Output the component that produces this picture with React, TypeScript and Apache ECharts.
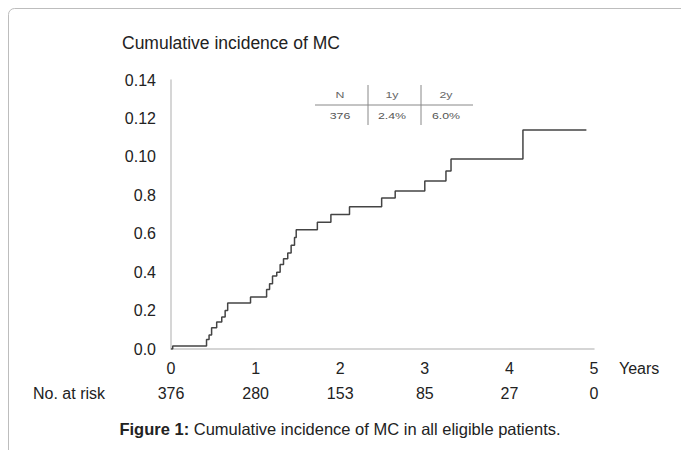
import React, { useEffect, useRef } from "react";
import * as echarts from "echarts";

const years = [0, 1, 2, 3, 4, 5];
const atRisk = ["376", "280", "153", "85", "27", "0"];
const yTickLabels = ["0.0", "0.2", "0.4", "0.6", "0.8", "0.10", "0.12", "0.14"];
const eventTimes = [0, 0.02, 0.42, 0.45, 0.48, 0.54, 0.6, 0.64, 0.67, 0.94, 1.13, 1.165, 1.2, 1.25, 1.29, 1.33, 1.38, 1.42, 1.46, 1.48, 1.73, 1.89, 2.11, 2.49, 2.65, 3.0, 3.25, 3.31, 4.16, 4.91];
const cumIncidence = [0, 0.0016, 0.005, 0.0073, 0.011, 0.014, 0.0167, 0.02, 0.024, 0.027, 0.031, 0.034, 0.038, 0.04, 0.044, 0.047, 0.05, 0.054, 0.058, 0.062, 0.066, 0.07, 0.074, 0.0786, 0.0822, 0.0875, 0.0927, 0.0989, 0.114, 0.114];
const tableHeader = ["N", "1y", "2y"];
const tableRow = ["376", "2.4%", "6.0%"];

const FONT = "'Liberation Sans', Arial, sans-serif";

export default function App() {
  const ref = useRef<HTMLDivElement>(null);
  useEffect(() => {
    if (!ref.current) return;
    const chart = echarts.init(ref.current, null, { renderer: "svg" });
    const colX = [340, 392, 446];
    const option: any = {
      animation: false,
      backgroundColor: "#fff",
      textStyle: { fontFamily: FONT },
      grid: { left: 171, right: 87, top: 80, bottom: 101, containLabel: false },
      xAxis: [
        {
          type: "value",
          min: 0,
          max: 5,
          interval: 1,
          axisLine: { show: true, lineStyle: { color: "#c8c8c8", width: 1.5 } },
          axisTick: { show: false },
          splitLine: { show: false },
          axisLabel: { color: "#222", fontSize: 16, margin: 11, fontFamily: FONT, formatter: (v: number) => String(years[Math.round(v)] ?? v) },
        },
        {
          type: "value",
          position: "bottom",
          offset: 25,
          min: 0,
          max: 5,
          interval: 1,
          axisLine: { show: false },
          axisTick: { show: false },
          splitLine: { show: false },
          axisLabel: { color: "#222", fontSize: 16, margin: 11, fontFamily: FONT, formatter: (v: number) => atRisk[Math.round(v)] ?? "" },
        },
      ],
      yAxis: {
        type: "value",
        min: 0,
        max: 0.14,
        interval: 0.02,
        axisLine: { show: true, lineStyle: { color: "#c8c8c8", width: 1.5 } },
        axisTick: { show: false },
        splitLine: { show: false },
        axisLabel: { color: "#222", fontSize: 16, margin: 15, fontFamily: FONT, formatter: (v: number) => yTickLabels[Math.round(v / 0.02)] ?? "" },
      },
      series: [
        {
          type: "line",
          step: "end",
          xAxisIndex: 0,
          symbol: "none",
          data: eventTimes.map((t, i) => [t, cumIncidence[i]]),
          lineStyle: { color: "#444", width: 1.5 },
        },
      ],
      graphic: [
        { type: "rect", shape: { x: 8.5, y: 8.5, width: 740, height: 520, r: 6 }, style: { fill: "none", stroke: "#bdbdbd", lineWidth: 1 }, silent: true },
        { type: "text", x: 122, y: 43, style: { text: "Cumulative incidence of MC", fontSize: 17.5, fontFamily: FONT, fill: "#222", verticalAlign: "middle" } },
        { type: "text", x: 619, y: 368, style: { text: "Years", fontSize: 16, fontFamily: FONT, fill: "#222", verticalAlign: "middle" } },
        { type: "text", x: 33, y: 393, style: { text: "No. at risk", fontSize: 16, fontFamily: FONT, fill: "#222", verticalAlign: "middle" } },
        {
          type: "text",
          x: 340,
          y: 429,
          style: {
            text: "{b|Figure 1:} Cumulative incidence of MC in all eligible patients.",
            fontSize: 16.5,
            fontFamily: FONT,
            fill: "#222",
            align: "center",
            verticalAlign: "middle",
            rich: { b: { fontWeight: "bold", fontSize: 16.5, fontFamily: FONT, fill: "#222" } },
          },
        },
        { type: "line", shape: { x1: 315, y1: 105, x2: 473, y2: 105 }, style: { stroke: "#888", lineWidth: 1 } },
        { type: "line", shape: { x1: 368, y1: 85, x2: 368, y2: 125 }, style: { stroke: "#888", lineWidth: 1 } },
        { type: "line", shape: { x1: 421, y1: 85, x2: 421, y2: 125 }, style: { stroke: "#888", lineWidth: 1 } },
        ...tableHeader.map((t, i) => ({ type: "text", x: colX[i], y: 95, scaleX: 1.3, style: { text: t, fontSize: 9.5, fontFamily: FONT, fill: "#666", align: "center", verticalAlign: "middle" } })),
        ...tableRow.map((t, i) => ({ type: "text", x: colX[i], y: 116, scaleX: 1.3, style: { text: t, fontSize: 9.5, fontFamily: FONT, fill: "#555", align: "center", verticalAlign: "middle" } })),
      ],
    };
    chart.setOption(option);
    return () => chart.dispose();
  }, []);
  return <div ref={ref} style={{ position: "absolute", left: 0, top: 0, width: 681, height: 450 }} />;
}
